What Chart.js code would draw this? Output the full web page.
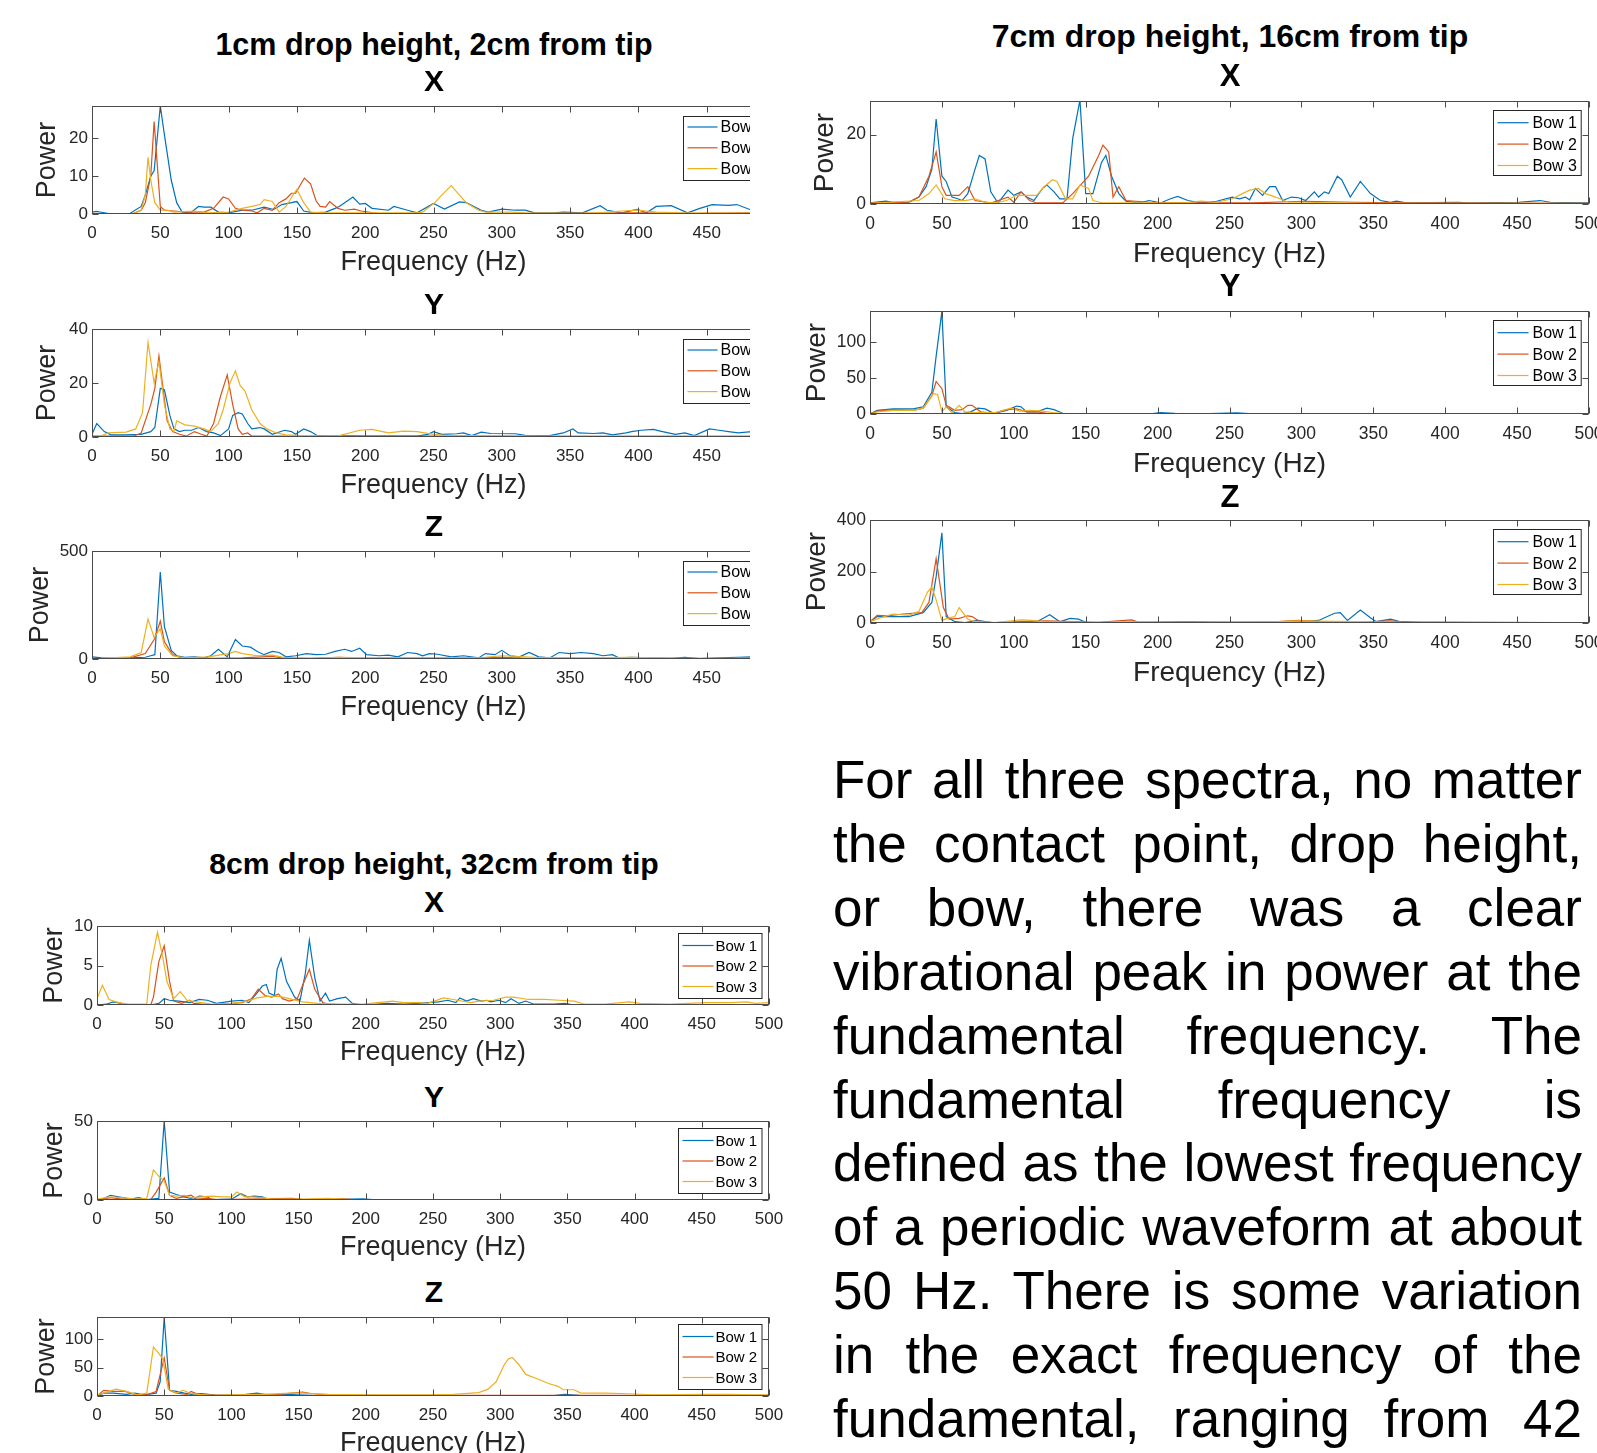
<!DOCTYPE html>
<html>
<head>
<meta charset="utf-8">
<script src="https://cdn.jsdelivr.net/npm/chart.js@4.4.0/dist/chart.umd.min.js"></script>
<style>
  body { margin: 0; background: #fff; width: 1597px; height: 1453px; position: relative; overflow: hidden;
         font-family: 'Liberation Sans', Arial, Helvetica, sans-serif; }
  .head { position: absolute; width: 800px; text-align: center; font-weight: bold; color: #000; white-space: nowrap; line-height: 1; }
  canvas { position: absolute; }
  #clipA { position: absolute; left: 0; top: 0; width: 750px; height: 740px; overflow: hidden; }
  #note { position: absolute; left: 833px; top: 748px; width: 749px; font-size: 53px; line-height: 63.9px; color: #000; }
  #note div { text-align: justify; text-align-last: justify; }
</style>
</head>
<body>
<div id="clipA"></div>
<div id="note">
  <div>For all three spectra, no matter</div>
  <div>the contact point, drop height,</div>
  <div>or bow, there was a clear</div>
  <div>vibrational peak in power at the</div>
  <div>fundamental frequency. The</div>
  <div>fundamental frequency is</div>
  <div>defined as the lowest frequency</div>
  <div>of a periodic waveform at about</div>
  <div>50 Hz. There is some variation</div>
  <div>in the exact frequency of the</div>
  <div>fundamental, ranging from 42</div>
</div>
<script>
// ---- data (frequency in Hz, power) ----
const freqTicks = [0, 50, 100, 150, 200, 250, 300, 350, 400, 450, 500];
const bowNames = ['Bow 1', 'Bow 2', 'Bow 3'];
const bowColors = ['#0072BD', '#D95319', '#EDB120'];

// 1cm drop height, 2cm from tip
const aX1 = [[0,0.5],[3,0.7],[8,0.4],[14,0],[28,0.2],[36,2],[39,5],[43,10],[45.5,11.5],[50,28.6],[53,21],[58,9],[62,3],[66,0.5],[72,0.3],[78,2],[82,1.8],[87,1.8],[92.5,0.5],[100,0.3],[110,1.0],[117,1.0],[126,1.8],[133,1.2],[139,2.5],[146,3],[150,3.3],[155,0.8],[162,0.3],[171,0.5],[178,1.5],[181,2],[191,4.5],[196,2.6],[200,2.8],[205,1.5],[217,1.0],[221,2],[231,1],[238,0.3],[250,2.8],[258,1.3],[269,3.2],[274,3],[285,1],[290,0.5],[300,1.3],[310,1.0],[317,1.0],[324,0.3],[338,0.3],[345,0.5],[359,0.3],[372,2.2],[377,1.0],[388,0.3],[399,1.2],[406,0.3],[413,2],[424,2.2],[436,0.3],[445,1.5],[454,2.5],[466,2.3],[472,2.5],[483,1.0],[490,0.5],[500,0.3]];
const aX2 = [[0,0],[30,0.1],[36,1],[39,3],[43,10],[45.5,24.5],[50,2],[53,1],[60,0.8],[68,0.5],[75,0.5],[82,0.5],[89,1.5],[96,4.5],[100,4],[105,1.5],[110,1],[117,0.8],[121,0.3],[126,1.5],[132,1],[137,3],[142,4],[146,5.5],[149,5.5],[153,8],[155.5,9.5],[160,8],[164,3.5],[167,2],[171,1.8],[174,3.3],[180,1.5],[185,1],[192,1.3],[197,0.8],[206,0.3],[213,0],[300,0.1],[400,0.3],[440,0.2],[480,0.3],[500,0.2]];
const aX3 = [[0,0],[30,0.1],[36,1],[39,5],[41,15],[43,9],[46,3],[50,1],[55,1],[60,0.5],[75,0.8],[85,0.3],[100,0.5],[110,1.5],[117,2],[123,2.5],[126,3.8],[132,3.3],[137,0.5],[142,2],[148,5.5],[150,6.5],[155,3],[160,0.5],[171,0.3],[238,0.3],[242,0.5],[251,3],[256,5],[263,7.5],[269,5],[274,3],[283,1],[288,0.5],[306,0.5],[317,0.3],[359,0.2],[370,0.3],[388,0.8],[399,1.0],[413,0.5],[431,0.3],[500,0.2]];

const aY1 = [[0,1],[3.5,5],[9,2],[14,0.8],[25,0.8],[36,1],[43,2],[46,3.5],[50,18],[53,17.5],[57,8],[60,3],[64,2],[68,2.5],[73,2.5],[78,3.5],[84,2],[89,1.5],[94,0.5],[100,3],[103,8],[107,9],[110,8.5],[114,5],[117,3],[123,3.5],[126,3],[132,1],[141,2.5],[146,2],[149,1],[155,3],[160,2],[165,0.5],[200,0.3],[238,0.3],[246,1],[250,2],[256,1],[267,1.2],[272,1.5],[278,0.5],[285,1.8],[292,1.3],[310,1.2],[317,0.6],[335,0.5],[345,1.5],[352,3],[356,1.5],[367,1.3],[374,1.5],[381,0.8],[391,1.5],[395,2],[402,2.5],[411,2.8],[416,2.2],[427,1],[434,1.5],[441,0.5],[452,3],[459,2.5],[466,2],[473,1.5],[483,2],[500,1.8]];
const aY2 = [[0,0.3],[30,0.3],[36,1.5],[43,12],[46,18],[49,30],[52,18],[55,6],[59,2],[64,1],[69,0.3],[75,2],[80,1],[84,0.3],[89,5],[94,15],[99,23],[103,12],[107,3],[110,1],[114,1.5],[117,0.3],[146,0.3],[250,0.3],[350,0.2],[500,0.2]];
const aY3 = [[0,0.5],[7,0.5],[12,1.5],[25,1.8],[32,3],[37,9],[41,35],[45.5,20],[49,28],[53,12],[57,3],[60,2],[62,6],[68,4.5],[75,4],[82,3],[87,2],[92.5,5],[96,10],[101,20],[105,24.5],[108.5,19],[112,17],[117,10],[123,5],[128,3],[135,1.5],[142,0.8],[160,0.3],[181,0.5],[196,2.5],[205,2.8],[217,1.5],[228,2.2],[238,2],[250,1],[260,0.5],[288,0.5],[324,0.3],[500,0.3]];

const aZ1 = [[0,10],[7,5],[14,3],[28,5],[39,8],[43,15],[46,20],[50,403],[53,150],[58,40],[62,15],[68,8],[75,10],[82,5],[87,15],[92.5,45],[99,10],[105,90],[110,60],[116,55],[121,35],[126,20],[132,35],[137,30],[142,10],[149,15],[157,25],[164,20],[171,22],[178,35],[185,45],[190,35],[196,50],[201,20],[210,15],[217,18],[224,10],[231,30],[238,25],[242,15],[247,25],[253,22],[263,10],[272,15],[283,5],[288,25],[295,20],[300,40],[306,15],[313,10],[320,30],[327,10],[335,5],[342,30],[350,25],[358,30],[367,25],[374,15],[381,20],[386,5],[395,8],[409,5],[424,3],[434,8],[445,2],[459,5],[473,8],[483,10],[500,8]];
const aZ2 = [[0,2],[28,5],[39,25],[45.5,90],[50,175],[53,80],[59,20],[64,8],[75,5],[89,3],[110,5],[132,12],[139,5],[160,3],[181,8],[200,3],[217,5],[250,3],[300,8],[320,3],[400,3],[500,2]];
const aZ3 = [[0,0],[14,5],[28,10],[36,30],[41,185],[45.5,100],[50,140],[53,60],[59,15],[68,5],[85,10],[100,25],[105,35],[110,25],[121,15],[132,18],[142,5],[160,3],[181,8],[203,5],[288,8],[300,15],[324,8],[359,5],[395,8],[431,3],[500,3]];

// 7cm drop height, 16cm from tip
const bX1 = [[0,0.3],[11,0.8],[16,0.5],[27,0.5],[34,2],[39,5],[43,10],[46,24.5],[50,8],[53,6.5],[57,2],[61,1.5],[64,1],[68,3],[73,10],[76,14],[80,13],[84,3.5],[89,0.3],[96,4],[100,2.5],[105,3.5],[109,2],[114,1],[120,4.5],[123,5.5],[128,3.5],[132,1.5],[137,1.5],[141,19],[146,30],[150,3],[155,3],[161,12],[164,14],[168,8],[173,3],[178,0.8],[187,0.3],[194,1],[202,0.3],[209,1.5],[214,2.2],[221,1],[230,0.3],[241,0.8],[252,2],[257,1.5],[261,2],[264,1.2],[268,4.5],[273,2.5],[278,5],[282,5],[287,1],[293,2],[298,1.8],[303,1],[309,3.5],[312,2],[316,3.5],[319,3],[325,8],[328,7],[334,2],[341,6.5],[348,3],[355,1],[362,0.5],[366,0.8],[373,0.3],[409,0.5],[416,0.3],[451,0.5],[466,1],[473,0.5],[500,0.3]];
const bX2 = [[0,0.3],[27,0.5],[34,2],[41,8],[46,15],[50,5],[53,2.5],[59,2.5],[62,2.5],[68,5],[73,1],[84,0.3],[96,2],[100,0.5],[105,3.5],[111,1],[116,0.3],[134,0.3],[141,3],[152,8],[159,14],[162,17],[166,15],[169,2],[173,5],[178,1],[194,0.5],[230,0.3],[266,0.3],[302,0.8],[337,0.5],[373,0.3],[500,0.2]];
const bX3 = [[0,0.2],[34,1],[41,3],[46,5.5],[52,1.5],[59,1],[66,1],[73,1.5],[80,0.5],[87,0.3],[95,1],[102,2.5],[109,2.5],[116,2.5],[121,5],[127,7],[130,6.5],[136,1.5],[141,1.5],[146,5.5],[152,4.5],[155,1],[162,0.3],[220,0.3],[230,0.8],[241,0.5],[252,1.5],[259,3],[264,4],[270,4.5],[275,3],[282,2],[291,0.5],[302,0.5],[340,0.2],[500,0.2]];

const bY1 = [[0,0],[5,5],[16,7],[30,7],[37,10],[43,30],[46,80],[50,142],[53,10],[59,2],[64,0.5],[70,3],[75,8],[80,7],[86,1],[95,5],[102,11],[105,10],[109,3],[116,3],[123,8],[128,6],[134,1],[145,0.3],[195,0.3],[202,2],[212,1],[230,0.3],[255,1.5],[266,0.3],[500,0.3]];
const bY2 = [[0,0],[5,4],[16,6],[30,5],[37,8],[43,25],[46,45],[50,35],[53,12],[59,5],[64,6],[68,12],[71,12],[77,3],[86,1],[95,6],[102,7],[109,3],[116,3],[123,1],[141,0.3],[500,0.3]];
const bY3 = [[0,0],[5,3],[16,5],[30,5],[37,8],[44,28],[47,27],[50,3],[53,10],[57,2],[62,12],[66,3],[73,2],[87,2],[98,8],[104,4],[112,5],[120,4],[127,2],[137,0.3],[500,0.3]];

const bZ1 = [[0,5],[5,25],[16,25],[27,25],[37,40],[43,80],[46,180],[50,350],[53,25],[59,5],[66,2],[75,10],[80,5],[87,1],[105,2],[116,5],[125,32],[132,5],[139,18],[145,15],[150,3],[159,2],[212,5],[266,1],[293,3],[312,10],[323,38],[327,40],[332,10],[341,50],[348,20],[352,5],[362,15],[369,5],[391,3],[409,1],[500,1]];
const bZ2 = [[0,5],[5,30],[12,28],[23,35],[36,40],[41,80],[46,250],[51,60],[55,15],[62,18],[68,28],[71,25],[77,3],[87,2],[105,5],[123,8],[141,5],[159,3],[182,12],[187,3],[202,5],[230,3],[284,5],[298,10],[312,5],[337,3],[362,8],[373,3],[500,1]];
const bZ3 = [[0,5],[7,20],[16,35],[27,30],[34,45],[40,120],[43,140],[46,90],[50,10],[55,20],[59,25],[62,60],[68,15],[73,5],[87,2],[105,12],[112,10],[120,5],[152,3],[195,5],[230,3],[284,5],[298,8],[337,5],[373,3],[391,5],[500,1]];

// 8cm drop height, 32cm from tip
const cX1 = [[0,0],[7,0.1],[12,0.4],[18,0.2],[25,0],[40,0],[46,0.2],[50,0.8],[54,0.6],[61,0.5],[69,0.3],[76,0.7],[82,0.6],[89,0.2],[100,0.5],[108,0.6],[113,0.3],[119,1.5],[123,2.4],[126,2.6],[128,1.5],[132,1.2],[134,4.5],[137,5.9],[141,3],[147,1],[151,0.5],[155,4],[158,8.2],[162,3.5],[166,0.5],[170,1.5],[173,0.5],[179,0.8],[185,1.0],[190,0.2],[198,0],[216,0.2],[228,0.1],[239,0.2],[254,0.4],[261,0.6],[267,0.3],[270,0.9],[275,0.5],[280,0.8],[286,0.5],[290,0.6],[293,0.4],[299,0.6],[304,0.3],[308,0.8],[314,0.2],[319,0.5],[325,0.1],[340,0.1],[348,0.2],[355,0],[500,0]];
const cX2 = [[0,0],[40,0],[42,1],[46,5.5],[50,7.5],[54,3],[57,0.5],[63,0.2],[69,0.6],[72,0.2],[85,0],[108,0.3],[115,0.8],[120,2.0],[125,1.2],[130,1.0],[135,1.4],[138,0.8],[143,0.5],[149,0.8],[153,2.5],[158,4.5],[162,2],[168,0.3],[175,0],[300,0.05],[500,0.05]];
const cX3 = [[0,0.8],[4,2.5],[9,0.7],[14,0.4],[22,0.1],[37,0.1],[40,5],[45,9.2],[49,6],[52,3],[57,0.8],[62,1.7],[67,0.6],[74,0.4],[85,0.1],[100,0.2],[112,0.5],[119,0.9],[127,1.1],[136,1.1],[143,0.8],[153,0.4],[164,0.2],[183,0.1],[198,0.1],[209,0.3],[220,0.5],[228,0.3],[239,0.3],[246,0.2],[258,0.9],[265,0.7],[278,0.3],[284,0.5],[295,0.6],[304,1.0],[310,1.0],[321,0.7],[333,0.7],[344,0.6],[355,0.5],[363,0.1],[378,0.1],[396,0.4],[404,0.2],[426,0.1],[453,0.3],[472,0.3],[483,0.4],[490,0.2],[500,0.3]];

const cY1 = [[0,0],[5,1],[10,3],[16,2],[25,0.5],[31,1.5],[37,0.3],[46,1],[50,50],[54,5],[59,3.5],[65,2],[72,0.5],[76,2.5],[82,2],[85,0.3],[100,0.5],[107,4],[112,2],[117,2.5],[123,2],[127,0.3],[145,0.5],[160,0.1],[198,0.8],[205,0.2],[500,0.1]];
const cY2 = [[0,0],[10,1.5],[22,0.3],[40,0.3],[44,5],[50,14],[54,3],[59,1],[70,3],[74,0.5],[82,1],[89,0.3],[145,1],[153,0.3],[172,0.5],[183,0.8],[190,0.3],[300,0.3],[500,0.2]];
const cY3 = [[0,0.5],[10,2],[18,1.5],[29,0.5],[37,1],[42,19],[46,15],[50,12],[54,3],[59,2.5],[65,3],[70,1.5],[78,2],[85,2.5],[93,2],[100,2],[104,5],[110,2],[115,2],[123,1.5],[130,0.5],[153,0.5],[172,1],[190,0.3],[500,0.3]];

const cZ1 = [[0,0],[5,5],[12,5],[22,3],[28,5],[35,2],[44,5],[47,25],[50,138],[54,10],[59,8],[65,5],[70,3],[78,4],[89,1],[108,2],[119,5],[127,2],[142,3],[149,2],[160,1],[190,0.5],[340,0.5],[348,3],[359,1],[500,0.5]];
const cZ2 = [[0,0],[5,10],[12,8],[21,8],[28,3],[37,2],[44,8],[50,67],[54,10],[59,5],[67,3],[70,8],[76,2],[97,1],[130,2],[145,5],[153,7],[160,4],[172,2],[190,1],[500,1]];
const cZ3 = [[0,2],[5,5],[14,12],[22,8],[30,2],[37,5],[42,86],[46,75],[49,65],[53,12],[59,5],[64,10],[69,5],[75,3],[86,1],[100,2],[123,3],[145,5],[153,5],[172,3],[209,2],[247,2],[265,3],[284,6],[291,12],[297,25],[303,55],[306,65],[309,68],[314,55],[319,38],[328,30],[336,22],[343,17],[347,11],[355,11],[360,5],[378,5],[396,4],[414,2],[453,3],[472,3],[486,2],[500,2]];

// ---- layout ----
Chart.defaults.font.family = "'Liberation Sans', Arial, Helvetica, sans-serif";
Chart.defaults.color = '#262626';

const heads = [
  ['1cm drop height, 2cm from tip', 434, 45, 30.5],
  ['X', 434, 82, 30], ['Y', 434, 305, 30], ['Z', 434, 527, 30],
  ['7cm drop height, 16cm from tip', 1230, 36.8, 32],
  ['X', 1230, 76.5, 31], ['Y', 1230, 286.5, 31], ['Z', 1230, 497.3, 31],
  ['8cm drop height, 32cm from tip', 434, 864.7, 30.2],
  ['X', 434, 903, 30], ['Y', 434, 1097.5, 30], ['Z', 434, 1293, 30]
];
heads.forEach(([t, cx, cy, fs]) => {
  const d = document.createElement('div');
  d.className = 'head';
  d.textContent = t;
  d.style.fontSize = fs + 'px';
  d.style.left = (cx - 400) + 'px';
  d.style.top = (cy - 0.52 * fs) + 'px';
  document.body.appendChild(d);
});

// group geometry: canvas left, plot left/right (page px), right pad, fonts, legend box
const groupA = { parent: 'clipA', cl: 0, pl: 92, pr: 775, padR: 10, tick: 17, title: 27, titlePadB: 1.4,
                 leg: { right: 8, top: 10, w: 84, h: 64, row0: 10.5, gap: 20.8, lineX: 4, lineLen: 30, textX: 37, font: 16 } };
const groupB = { parent: null, cl: 790, pl: 870, pr: 1589, padR: 8, tick: 17.5, title: 28, titlePadB: -0.7,
                 leg: { right: 8.3, top: 9, w: 87.7, h: 65, row0: 12.2, gap: 21.4, lineX: 4, lineLen: 31, textX: 39, font: 16 } };
const groupC = { parent: null, cl: 0, pl: 97, pr: 769, padR: 26, tick: 17, title: 27, titlePadB: 2.2,
                 leg: { right: 7.2, top: 7, w: 83.5, h: 65, row0: 12, gap: 20.5, lineX: 4, lineLen: 31, textX: 37, font: 15 } };

const panels = [
  { g: groupA, pt: 106, pb: 214, yMax: 28.6, yTicks: [0, 10, 20], powerX: 48, series: [aX1, aX2, aX3] },
  { g: groupA, pt: 329, pb: 437, yMax: 40, yTicks: [0, 20, 40], powerX: 48, series: [aY1, aY2, aY3] },
  { g: groupA, pt: 551, pb: 659, yMax: 500, yTicks: [0, 500], powerX: 41, series: [aZ1, aZ2, aZ3] },
  { g: groupB, pt: 101, pb: 204, yMax: 29.7, yTicks: [0, 20], powerX: 825, series: [bX1, bX2, bX3] },
  { g: groupB, pt: 311, pb: 414, yMax: 142.5, yTicks: [0, 50, 100], powerX: 817, series: [bY1, bY2, bY3] },
  { g: groupB, pt: 520, pb: 623, yMax: 400, yTicks: [0, 200, 400], powerX: 817, series: [bZ1, bZ2, bZ3] },
  { g: groupC, pt: 926, pb: 1005, yMax: 10, yTicks: [0, 5, 10], powerX: 55, series: [cX1, cX2, cX3] },
  { g: groupC, pt: 1121, pb: 1200, yMax: 50, yTicks: [0, 50], powerX: 55, series: [cY1, cY2, cY3] },
  { g: groupC, pt: 1317, pb: 1396, yMax: 139, yTicks: [0, 50, 100], powerX: 47, series: [cZ1, cZ2, cZ3] }
];

// box around the axes with inward ticks on all four sides
const matlabFrame = {
  id: 'matlabFrame',
  afterDatasetsDraw(chart) {
    const { ctx, chartArea: a, scales: { x, y } } = chart;
    const L = Math.round(a.left) + 0.5, R = Math.round(a.right) - 0.5;
    const T = Math.round(a.top) + 0.5, B = Math.round(a.bottom) - 0.5;
    ctx.save();
    ctx.strokeStyle = '#4a4a4a';
    ctx.lineWidth = 1;
    ctx.strokeRect(L, T, R - L, B - T);
    ctx.beginPath();
    x.ticks.forEach(t => {
      const px = Math.round(x.getPixelForValue(t.value)) + 0.5;
      ctx.moveTo(px, T); ctx.lineTo(px, T + 6);
      ctx.moveTo(px, B); ctx.lineTo(px, B - 6);
    });
    y.ticks.forEach(t => {
      const py = Math.round(y.getPixelForValue(t.value)) + 0.5;
      ctx.moveTo(L, py); ctx.lineTo(L + 6, py);
      ctx.moveTo(R, py); ctx.lineTo(R - 6, py);
    });
    ctx.stroke();
    ctx.restore();
  }
};

// MATLAB-style legend box in the upper right of the axes
const boxLegend = {
  id: 'boxLegend',
  afterDraw(chart, args, o) {
    const { ctx, chartArea: a } = chart;
    const bx = Math.round(a.right - o.right - o.w) + 0.5;
    const by = Math.round(a.top + o.top) + 0.5;
    ctx.save();
    ctx.fillStyle = '#fff';
    ctx.fillRect(bx, by, o.w, o.h);
    ctx.strokeStyle = '#262626';
    ctx.lineWidth = 1;
    ctx.strokeRect(bx, by, o.w, o.h);
    ctx.font = o.font + "px 'Liberation Sans', Arial, sans-serif";
    ctx.textBaseline = 'middle';
    ctx.textAlign = 'left';
    chart.data.datasets.forEach((ds, i) => {
      const ry = by + o.row0 + i * o.gap;
      ctx.strokeStyle = ds.borderColor;
      ctx.lineWidth = 1.2;
      ctx.beginPath();
      ctx.moveTo(bx + o.lineX, ry);
      ctx.lineTo(bx + o.lineX + o.lineLen, ry);
      ctx.stroke();
      ctx.fillStyle = '#000';
      ctx.fillText(ds.label, bx + o.textX, ry + 1);
    });
    ctx.restore();
  }
};

panels.forEach(p => {
  const g = p.g;
  const padTop = 14, xAxisH = 66;
  const canvas = document.createElement('canvas');
  const w = g.pr + g.padR - g.cl;
  const h = p.pb + xAxisH - (p.pt - padTop);
  canvas.width = w;
  canvas.height = h;
  canvas.style.left = g.cl + 'px';
  canvas.style.top = (p.pt - padTop) + 'px';
  (g.parent ? document.getElementById(g.parent) : document.body).appendChild(canvas);

  const datasets = p.series.map((s, i) => ({
    label: bowNames[i],
    data: s.map(([f, v]) => ({ x: f, y: v })),
    borderColor: bowColors[i],
    backgroundColor: bowColors[i],
    borderWidth: 1.2,
    pointRadius: 0,
    tension: 0,
    order: 3 - i
  }));

  new Chart(canvas, {
    type: 'line',
    data: { datasets },
    plugins: [matlabFrame, boxLegend],
    options: {
      responsive: false,
      animation: false,
      events: [],
      layout: { padding: { top: padTop, right: g.padR, left: 0, bottom: 0 } },
      plugins: {
        legend: { display: false },
        tooltip: { enabled: false },
        boxLegend: g.leg
      },
      scales: {
        x: {
          type: 'linear', min: 0, max: 500,
          grid: { display: false, drawTicks: false },
          border: { display: false },
          ticks: { autoSkip: false, maxRotation: 0, padding: 9.3, color: '#262626', font: { size: g.tick } },
          afterBuildTicks: s => { s.ticks = freqTicks.map(v => ({ value: v })); },
          afterFit: s => { s.height = xAxisH; s.paddingLeft = 0; s.paddingRight = 0; },
          title: { display: true, text: 'Frequency (Hz)', color: '#262626', font: { size: g.title },
                   padding: { top: 0, bottom: g.titlePadB } }
        },
        y: {
          type: 'linear', min: 0, max: p.yMax,
          grid: { display: false, drawTicks: false },
          border: { display: false },
          ticks: { padding: 4, color: '#262626', font: { size: g.tick } },
          afterBuildTicks: s => { s.ticks = p.yTicks.map(v => ({ value: v })); },
          afterFit: s => { s.width = g.pl - g.cl; s.paddingTop = 0; s.paddingBottom = 0; },
          title: { display: true, text: 'Power', color: '#262626', font: { size: g.title },
                   padding: { top: p.powerX - g.cl - g.title * 0.6, bottom: 0 } }
        }
      }
    }
  });
});
</script>
</body>
</html>
